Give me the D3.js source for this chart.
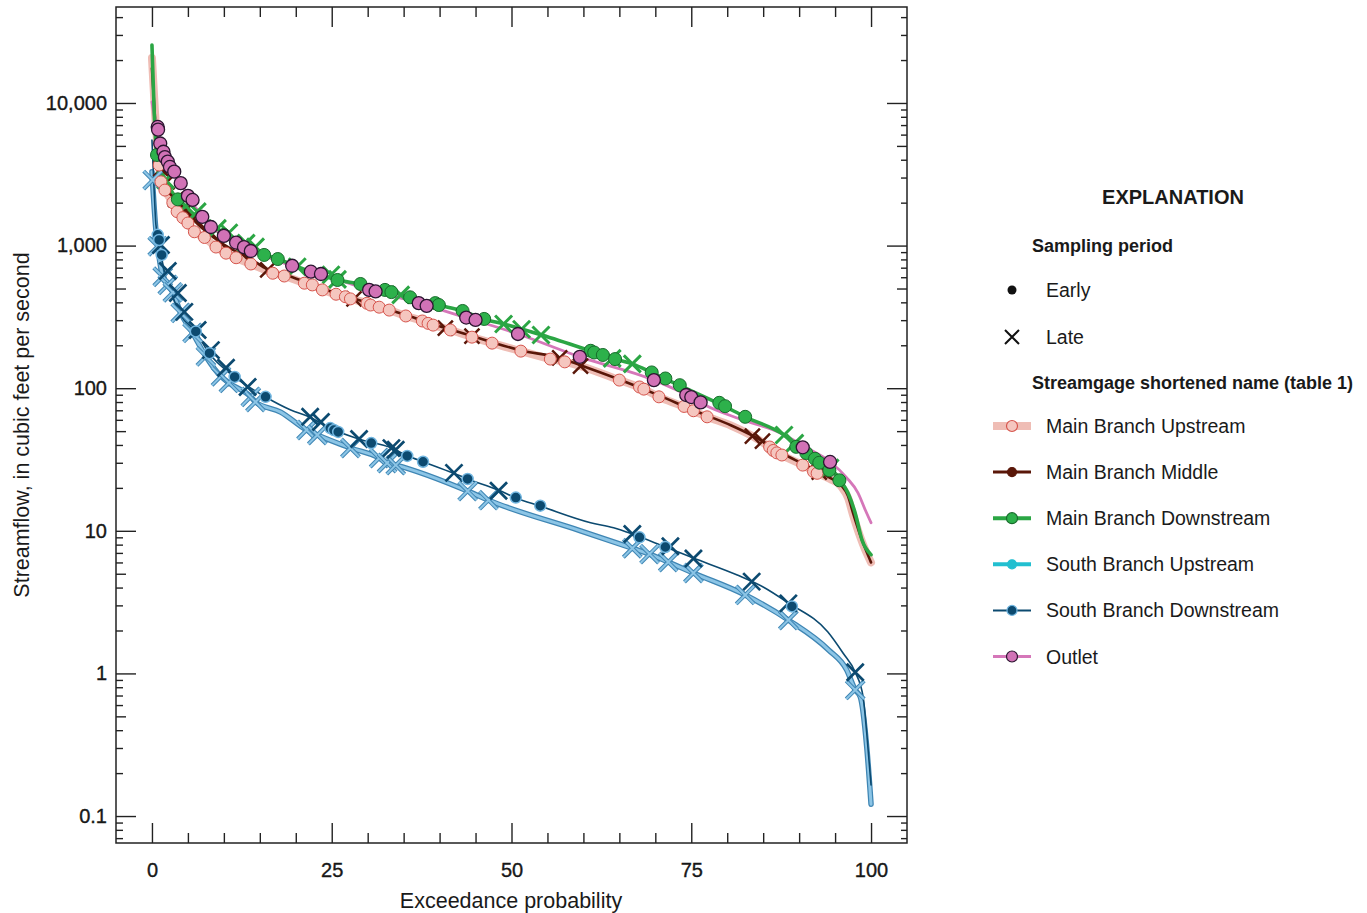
<!DOCTYPE html>
<html>
<head>
<meta charset="utf-8">
<script src="https://cdn.jsdelivr.net/npm/d3@7"></script>
<style>
  body { margin: 0; background: #fff; }
  text { font-family: "Liberation Sans", Arial, sans-serif; fill: #1a1a1a; }
</style>
</head>
<body>
<svg id="chart" width="1367" height="913"></svg>
<script>
// ---- Flow-duration data: [exceedance probability (percent), streamflow (cfs)] ----

const xMajorTicks = [0, 25, 50, 75, 100];
const yMajorTicks = [0.1, 1, 10, 100, 1000, 10000];

const seriesNames = ["Main Branch Upstream", "Main Branch Middle", "Main Branch Downstream",
                     "South Branch Upstream", "South Branch Downstream", "Outlet"];

// Main Branch Upstream
const mbUpLine = [[0,20700],[0.4,9000],[1.0,3670],[1.25,2790],[1.8,2450],[2.9,1990],[3.5,1720],[4.3,1560],[5.0,1440],[5.9,1250],[7.3,1140],[8.9,977],[10.3,887],[11.7,818],[13.75,743],[16.8,643],[18.4,612],[21.2,547],[22.3,530],[23.7,489],[25.6,455],[27.6,423],[29.9,396],[31.6,370],[33.0,353],[35.3,321],[37.6,296],[39.1,277],[41.5,256],[44.5,228],[47.3,207],[51.3,182],[55.4,160],[57.4,153],[59.6,143],[65.0,114],[68.3,99],[70.5,87],[74.0,74],[75.3,69],[77.2,63],[80.5,54.8],[83.5,46.2],[85.9,38.7],[87.6,34.0],[90.5,28.9],[92.5,25.4],[94.3,23.1],[95.8,20.6],[96.8,17.0],[97.5,12.9],[98.5,9.05],[99.2,7.33],[100,6.0]];
const mbUpEarly = [[1.0,3670],[1.25,2800],[1.8,2450],[2.9,2000],[3.5,1730],[4.3,1570],[5.0,1440],[5.9,1250],[7.3,1140],[8.9,977],[10.3,885],[11.7,822],[13.75,743],[16.8,640],[18.4,612],[21.2,545],[22.3,530],[23.7,489],[25.6,456],[26.9,438],[27.6,423],[29.9,394],[30.4,383],[31.6,370],[33.0,353],[35.3,321],[37.6,296],[38.4,285],[39.1,277],[41.5,256],[44.5,228],[47.3,207],[51.3,182],[55.4,160],[57.4,153],[65.0,114],[67.8,102],[68.4,98.5],[70.5,87],[74.0,74.5],[75.3,69.5],[77.2,63],[85.9,38.7],[86.4,36.6],[86.9,35.2],[87.6,34.0],[90.5,28.9],[92.0,26.0],[92.5,25.3]];

// Main Branch Middle
const mbMidLine = [[0,17500],[0.4,8200],[1.0,4000],[1.3,3400],[2.0,2750],[3.0,2150],[4.0,1850],[5.3,1600],[7.0,1320],[9.0,1100],[11.0,950],[13.5,820],[16.1,680],[18.5,625],[21.0,565],[25.0,475],[28.1,425],[31.5,375],[35.3,326],[40.8,264],[44.5,232],[47.3,210],[51.3,184],[56.7,163],[59.6,145],[65.0,115],[70.5,89],[75.3,70],[80.5,55],[83.5,46.5],[84.9,42.5],[87.6,35],[90.5,29.5],[94.3,23.5],[95.8,21],[96.8,17.5],[97.5,13.3],[98.5,9.3],[99.2,7.5],[100,6.0]];
const mbMidLate = [[1.25,3450],[2.1,2800],[3.3,2100],[4.6,1750],[5.8,1550],[7.6,1280],[9.3,1080],[12.5,880],[16.1,675],[28.1,423],[40.8,264],[44.5,232],[56.7,163],[59.6,143],[83.5,46.2],[84.9,42.5],[92.8,25.8]];

// Main Branch Downstream
const mbDownLine = [[0,25500],[0.3,8930],[0.7,4320],[1.9,2880],[3.5,2120],[5.4,1690],[9.2,1310],[10.0,1190],[13.1,1000],[15.6,870],[17.5,805],[20.7,697],[25.8,574],[29.0,538],[33.3,473],[35.8,436],[39.9,383],[43.2,348],[46.1,306],[48.9,282],[51.4,260],[54.2,236],[61.5,179],[64.4,160],[66.8,148],[69.6,128],[73.3,105],[79.3,76],[82.5,63],[87.9,47],[91.0,35.2],[94.3,27.1],[95.8,22.3],[96.8,18.4],[97.8,13.3],[98.75,8.6],[100,6.8]];
const mbDownEarly = [[0.7,4320],[3.6,2110],[10.0,1190],[15.6,860],[17.5,805],[25.8,574],[29.0,538],[32.4,489],[33.3,472],[35.9,434],[39.4,395],[39.9,383],[43.2,348],[46.2,306],[61.0,183],[61.5,178],[62.7,171],[64.4,160],[69.5,129],[71.4,117],[73.4,105],[78.9,79],[79.7,74.8],[82.5,63],[89.6,38.8],[91.0,35.1],[92.2,32.0],[92.8,30.0],[94.2,26.6],[95.6,22.6]];
const mbDownLate = [[1.9,2880],[4.7,1900],[6.3,1730],[9.1,1320],[10.7,1230],[13.1,1040],[14.4,980],[20.2,710],[24.9,625],[25.8,580],[34.6,451],[48.9,282],[51.4,259],[54.1,236],[64.0,162],[66.8,148],[87.9,47.0],[89.4,41.2],[94.3,27.6]];

// South Branch Upstream
const sbUpLine = [[0,3300],[0.55,1285],[0.8,990],[1.5,605],[2.2,530],[2.9,470],[4.0,337],[5.65,244],[7.5,167],[9.6,121],[10.7,109],[13.75,87],[14.4,80],[17.9,68],[21.5,50.9],[23.0,47.0],[27.6,38.1],[31.6,32.4],[32.7,29.9],[33.9,28.9],[43.9,19.0],[46.8,16.4],[59.6,10.0],[66.8,7.55],[69.2,6.87],[71.8,6.04],[75.3,5.06],[82.5,3.55],[88.5,2.37],[94.1,1.46],[96.6,1.06],[97.8,0.766],[98.5,0.684],[99.4,0.305],[100,0.121]];
const sbUpLate = [[0.1,2880],[0.8,990],[1.5,605],[2.2,530],[2.9,470],[4.0,337],[5.65,244],[7.5,167],[9.6,121],[10.7,109],[13.75,87],[14.4,80],[21.5,50.9],[23.0,47.0],[27.6,38.1],[31.6,32.4],[32.7,29.9],[33.9,28.9],[43.9,19.0],[46.8,16.4],[66.8,7.55],[69.2,6.87],[71.8,6.04],[75.3,5.06],[82.5,3.55],[88.5,2.37],[97.8,0.766]];

// South Branch Downstream
const sbDownLine = [[0,5500],[0.3,2450],[0.55,1400],[0.8,1190],[1.25,873],[1.9,603],[2.9,436],[4.0,326],[6.1,248],[7.9,177],[11.5,120],[15.8,86.7],[19.3,70.3],[21.9,62.8],[24.7,52.6],[28.75,44.1],[33.3,38.1],[35.6,33.5],[37.8,30.4],[41.9,25.4],[43.9,23.1],[48.2,19.3],[50.6,17.0],[54.0,14.9],[61.0,11.4],[64.2,10.5],[66.8,9.5],[71.4,7.7],[75.3,6.44],[81.4,4.9],[85.0,4.04],[88.5,3.12],[94.0,1.95],[96.1,1.39],[97.8,1.02],[98.9,0.684],[99.4,0.382],[100,0.165]];
const sbDownEarly = [[0.8,1190],[1.0,1095],[1.35,860],[6.1,250],[8.0,176],[11.5,120],[15.8,87],[24.8,52.5],[25.3,50.9],[25.9,49.4],[30.5,41.2],[35.5,33.5],[37.7,30.5],[43.9,23.1],[50.6,17.1],[54.0,15.0],[67.8,9.0],[71.4,7.7],[89.0,2.95]];
const sbDownLate = [[1.25,1010],[2.2,664],[3.6,465],[4.5,343],[6.35,256],[8.2,185],[10.3,139],[13.3,102],[22.0,63],[23.5,58],[28.8,44],[33.3,38],[33.9,37],[42.0,25.5],[48.2,19.1],[66.8,9.5],[72.1,7.8],[75.3,6.4],[83.4,4.4],[88.5,3.1],[97.8,1.02]];

// Outlet
const outletLine = [[0,10160],[0.3,8240],[0.8,6800],[1.15,5200],[1.6,4550],[2.2,3900],[3.1,3300],[4.0,2750],[5.0,2230],[7.0,1600],[8.2,1360],[10.0,1170],[12.8,980],[19.5,720],[23.5,632],[30.2,489],[37.1,395],[43.7,312],[50.9,240],[59.5,166],[69.8,114],[75.0,86.5],[76.9,76.2],[81.8,60.8],[87.4,48.5],[91.1,38.1],[94.3,30.5],[96.6,23.6],[98.2,18.4],[99.2,14.0],[100,11.4]];
const outletEarly = [[0.8,6790],[0.85,6500],[1.15,5200],[1.6,4550],[1.8,4170],[2.2,3880],[2.5,3560],[3.1,3300],[4.0,2740],[5.0,2230],[5.65,2090],[7.0,1590],[8.2,1350],[10.0,1170],[11.7,1050],[12.8,975],[13.75,916],[19.5,722],[22.1,656],[23.5,632],[30.2,489],[31.1,477],[37.1,395],[38.2,378],[43.7,313],[45.0,301],[50.9,240],[59.5,166],[69.8,114],[74.3,89.6],[75.0,86.7],[76.3,79.5],[90.5,38.5],[94.3,30.4]];

// ---- Layout ----
const svg = d3.select("#chart");
const plot = { left: 116, right: 907, top: 7, bottom: 843 };

const x = d3.scaleLinear().domain([-5, 105]).range([plot.left, plot.right]);
const y = d3.scaleLog().domain([0.0647, 47100]).range([plot.bottom, plot.top]);

// Minor tick positions for the axes
const xMinorTicks = d3.range(5, 100, 5).filter(v => v % 25 !== 0);
const yFiveTicks = [], yMinorTicks = [];
for (let e = -2; e <= 4; e++) {
  for (let k = 2; k <= 9; k++) {
    const v = k * Math.pow(10, e);
    if (v < y.domain()[0] || v > y.domain()[1]) continue;
    if (k === 5) yFiveTicks.push(v); else yMinorTicks.push(v);
  }
}

const fmtY = d => d < 1 ? String(d) : d3.format(",")(d);

function styleAxis(g) {
  g.select(".domain").remove();
  g.selectAll(".tick line").attr("stroke", "#222").attr("stroke-width", 1.4);
  g.selectAll(".tick text").attr("font-size", 20).attr("fill", "#111")
    .attr("stroke", "#111").attr("stroke-width", 0.35)
    .attr("font-family", "'Liberation Sans', Arial, sans-serif");
}

// bottom
svg.append("g").attr("transform", `translate(0,${plot.bottom})`)
  .call(d3.axisBottom(x).tickValues(xMajorTicks).tickSize(-20).tickPadding(20).tickFormat(d3.format("d"))).call(styleAxis);
svg.append("g").attr("transform", `translate(0,${plot.bottom})`)
  .call(d3.axisBottom(x).tickValues(xMinorTicks).tickSize(-10).tickFormat("")).call(styleAxis);
// top
svg.append("g").attr("transform", `translate(0,${plot.top})`)
  .call(d3.axisTop(x).tickValues(xMajorTicks).tickSize(-20).tickFormat("")).call(styleAxis);
svg.append("g").attr("transform", `translate(0,${plot.top})`)
  .call(d3.axisTop(x).tickValues(xMinorTicks).tickSize(-10).tickFormat("")).call(styleAxis);
// left
svg.append("g").attr("transform", `translate(${plot.left},0)`)
  .call(d3.axisLeft(y).tickValues(yMajorTicks).tickSize(-20).tickPadding(9).tickFormat(fmtY)).call(styleAxis);
svg.append("g").attr("transform", `translate(${plot.left},0)`)
  .call(d3.axisLeft(y).tickValues(yFiveTicks).tickSize(-10).tickFormat("")).call(styleAxis);
svg.append("g").attr("transform", `translate(${plot.left},0)`)
  .call(d3.axisLeft(y).tickValues(yMinorTicks).tickSize(-7).tickFormat("")).call(styleAxis);
// right
svg.append("g").attr("transform", `translate(${plot.right},0)`)
  .call(d3.axisRight(y).tickValues(yMajorTicks).tickSize(-20).tickFormat("")).call(styleAxis);
svg.append("g").attr("transform", `translate(${plot.right},0)`)
  .call(d3.axisRight(y).tickValues(yFiveTicks).tickSize(-10).tickFormat("")).call(styleAxis);
svg.append("g").attr("transform", `translate(${plot.right},0)`)
  .call(d3.axisRight(y).tickValues(yMinorTicks).tickSize(-6).tickFormat("")).call(styleAxis);

// frame
svg.append("rect")
  .attr("x", plot.left).attr("y", plot.top)
  .attr("width", plot.right - plot.left).attr("height", plot.bottom - plot.top)
  .attr("fill", "none").attr("stroke", "#222").attr("stroke-width", 1.5);

// axis titles
svg.append("text").attr("x", 511).attr("y", 908).attr("text-anchor", "middle")
  .attr("font-size", 21.5).text("Exceedance probability");
svg.append("text").attr("transform", "translate(29,425) rotate(-90)").attr("text-anchor", "middle")
  .attr("font-size", 21.5).text("Streamflow, in cubic feet per second");

// ---- Styles ----
const C = {
  mbUpBand: "#efbdb5", mbUpFill: "#f5c6bf", mbUpStroke: "#d6554d",
  mbMid: "#5a1709",
  mbDown: "#2ba644", mbDownFill: "#2db14b", mbDownStroke: "#176b2b",
  sbUpLight: "#8cc5e6", sbUpEdge: "#3f86b4", sbUpLegend: "#22bfd0",
  sbDown: "#0c4a70", sbDownHalo: "#72b6e0",
  outlet: "#d577b9", outletFill: "#d172b6", outletStroke: "#2b1530"
};

const clipId = "plot-clip";
svg.append("clipPath").attr("id", clipId).append("rect")
  .attr("x", plot.left).attr("y", plot.top)
  .attr("width", plot.right - plot.left).attr("height", plot.bottom - plot.top);

const gPlot = svg.append("g").attr("clip-path", `url(#${clipId})`);
const line = d3.line().x(d => x(d[0])).y(d => y(d[1])).curve(d3.curveMonotoneX);

function drawLine(data, color, width) {
  gPlot.append("path").datum(data).attr("d", line)
    .attr("fill", "none").attr("stroke", color).attr("stroke-width", width)
    .attr("stroke-linejoin", "round").attr("stroke-linecap", "round");
}

// lines
drawLine(sbUpLine, C.sbUpEdge, 5.5);
drawLine(sbUpLine, C.sbUpLight, 3);
drawLine(sbDownLine, C.sbDown, 1.6);
drawLine(mbUpLine, C.mbUpBand, 8);
drawLine(mbMidLine, C.mbMid, 2.6);
drawLine(outletLine, C.outlet, 2.8);
drawLine(mbDownLine, C.mbDown, 3.6);

const crossPath = s => `M${-s},${-s}L${s},${s}M${-s},${s}L${s},${-s}`;

function drawCrosses(data, color, size, width, edge) {
  const g = gPlot.append("g");
  const sel = g.selectAll("g").data(data).join("g")
    .attr("transform", d => `translate(${x(d[0])},${y(d[1])})`);
  if (edge) {
    sel.append("path").attr("d", crossPath(size)).attr("stroke", edge)
      .attr("stroke-width", width + 2).attr("fill", "none");
  }
  sel.append("path").attr("d", crossPath(size)).attr("stroke", color)
    .attr("stroke-width", width).attr("fill", "none");
}

function drawDots(data, fill, stroke, r, sw) {
  gPlot.append("g").selectAll("circle").data(data).join("circle")
    .attr("cx", d => x(d[0])).attr("cy", d => y(d[1])).attr("r", r)
    .attr("fill", fill).attr("stroke", stroke).attr("stroke-width", sw);
}

// late-period crosses
drawCrosses(mbMidLate, C.mbMid, 7.5, 2.5);
drawCrosses(mbDownLate, C.mbDown, 8.5, 3);
drawCrosses(sbUpLate, C.sbUpLight, 9, 2, C.sbUpEdge);
drawCrosses(sbDownLate, C.sbDown, 8.5, 2.7);

// early-period dots
drawDots(mbUpEarly, C.mbUpFill, C.mbUpStroke, 6, 1);
drawDots(mbDownEarly, C.mbDownFill, C.mbDownStroke, 6.5, 1);
drawDots(sbDownEarly, C.sbDown, C.sbDownHalo, 5.5, 1.5);
drawDots(outletEarly, C.outletFill, C.outletStroke, 6.5, 1.3);

// ---- Explanation ----
const lg = svg.append("g");
lg.append("text").attr("x", 1173).attr("y", 204).attr("text-anchor", "middle")
  .attr("font-size", 20).attr("font-weight", "bold").text("EXPLANATION");
lg.append("text").attr("x", 1032).attr("y", 252)
  .attr("font-size", 18).attr("font-weight", "bold").text("Sampling period");
lg.append("circle").attr("cx", 1012).attr("cy", 290).attr("r", 4.5).attr("fill", "#111");
lg.append("text").attr("x", 1046).attr("y", 297).attr("font-size", 19.5).text("Early");
lg.append("path").attr("transform", "translate(1012,337)").attr("d", crossPath(7))
  .attr("stroke", "#111").attr("stroke-width", 2).attr("fill", "none");
lg.append("text").attr("x", 1046).attr("y", 344).attr("font-size", 19.5).text("Late");
lg.append("text").attr("x", 1032).attr("y", 389)
  .attr("font-size", 18).attr("font-weight", "bold").text("Streamgage shortened name (table 1)");

const legendStyles = [
  { line: C.mbUpBand, lw: 8, fill: C.mbUpFill, stroke: C.mbUpStroke, r: 5.5 },
  { line: C.mbMid, lw: 3, fill: C.mbMid, stroke: C.mbMid, r: 4.5 },
  { line: C.mbDown, lw: 4, fill: C.mbDownFill, stroke: C.mbDownStroke, r: 5.5 },
  { line: C.sbUpLegend, lw: 4, fill: C.sbUpLegend, stroke: C.sbUpLegend, r: 4.5 },
  { line: C.sbDown, lw: 2, fill: C.sbDown, stroke: C.sbDownHalo, r: 5 },
  { line: C.outlet, lw: 3, fill: C.outletFill, stroke: C.outletStroke, r: 5.5 }
];

seriesNames.forEach((name, i) => {
  const cy = 426 + i * 46.1;
  const s = legendStyles[i];
  lg.append("line").attr("x1", 993).attr("x2", 1031).attr("y1", cy).attr("y2", cy)
    .attr("stroke", s.line).attr("stroke-width", s.lw);
  lg.append("circle").attr("cx", 1012).attr("cy", cy).attr("r", s.r)
    .attr("fill", s.fill).attr("stroke", s.stroke).attr("stroke-width", 1.2);
  lg.append("text").attr("x", 1046).attr("y", cy + 7).attr("font-size", 19.5).text(name);
});
</script>
</body>
</html>
